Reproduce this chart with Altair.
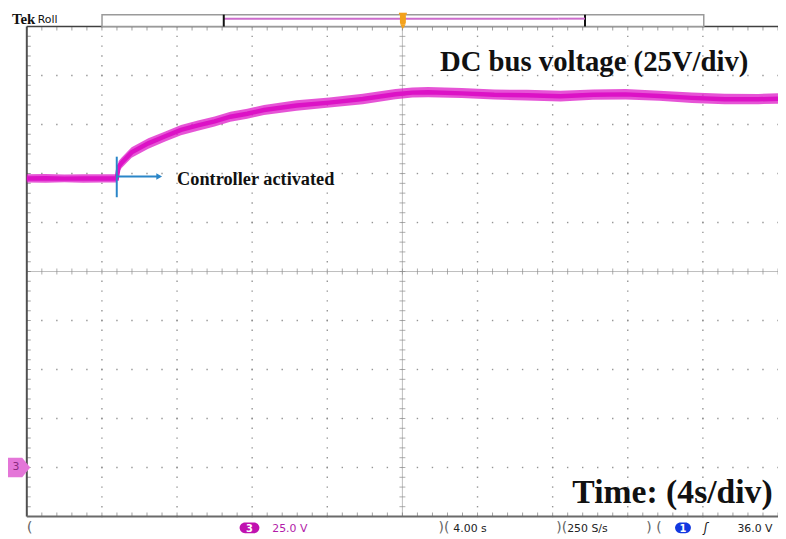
import altair as alt
import pandas as pd
import numpy as np

# ---- trace (time in s, DC bus voltage in V; ch3 ground = 0 V)
t_s = [0.0, 1.0, 2.0, 3.0, 4.0, 4.79, 4.89, 5.05, 5.58, 6.47, 7.37, 8.21, 9.11, 10.0,
       10.84, 11.74, 12.63, 14.37, 16.11, 17.89, 19.63, 20.53, 21.37, 23.16, 24.89,
       26.63, 28.42, 30.16, 31.89, 33.68, 35.42, 37.16, 38.95, 40.0]
v_mid = [147.5, 147.6, 147.4, 147.5, 147.5, 147.5, 153.5, 155.5, 160.8, 165.4, 169.0,
         172.3, 174.6, 176.6, 179.0, 180.5, 182.4, 184.7, 186.2, 188.0, 190.5, 191.3,
         191.5, 190.9, 190.2, 189.9, 189.4, 190.2, 190.4, 189.6, 188.6, 187.9, 187.9, 188.2]
v_hi = [149.6, 149.8, 149.5, 149.7, 149.6, 149.6, 156.4, 158.2, 163.4, 168.0, 171.5,
        174.8, 177.1, 179.1, 181.5, 183.0, 185.0, 187.4, 188.8, 190.7, 193.2, 193.9,
        194.2, 193.6, 192.9, 192.7, 192.2, 192.9, 193.2, 192.3, 191.4, 190.7, 190.6, 191.0]
v_lo = [145.4, 145.3, 145.5, 145.3, 145.4, 145.4, 150.6, 152.8, 158.0, 162.6, 166.3,
        169.6, 171.8, 174.0, 176.4, 177.9, 179.9, 182.1, 183.7, 185.4, 187.9, 188.8,
        188.9, 188.5, 187.8, 187.3, 186.8, 187.7, 187.8, 187.1, 186.0, 185.3, 185.4, 185.6]

activation_t = [4.79]
status_texts = ["25.0 V", "4.00 s", "250 S/s", "36.0 V"]

T_DIV, V_DIV = 4.0, 25.0
X0, X1 = 0.0, 40.0
Y0, Y1 = -25.0, 225.0

W, H = 759, 495
xs = alt.Scale(domain=[X0, X1], nice=False, zero=False)
ys = alt.Scale(domain=[Y0, Y1], nice=False, zero=False)


def X(f):
    return alt.X(f, type="quantitative", scale=xs, axis=None)


def Y(f):
    return alt.Y(f, type="quantitative", scale=ys, axis=None)


MAG = "#dc12c6"
BLUE = "#2a86c8"

# ---- graticule dots
tminor = np.round(np.arange(X0, X1 + 1e-6, T_DIV / 5), 3)
vminor = np.round(np.arange(Y0, Y1 + 1e-6, V_DIV / 5), 3)
vlines = [4, 8, 12, 16, 24, 28, 32, 36]
hlines = [0, 25, 50, 75, 125, 150, 175, 200]
dots = [(a, b) for a in vlines for b in vminor] + [(a, b) for b in hlines for a in tminor]
dots_df = pd.DataFrame(dots, columns=["x", "y"])

grid = alt.Chart(dots_df).mark_square(size=2, color="#8a8a8a", opacity=0.9).encode(
    x=X("x"), y=Y("y"))

center_v = alt.Chart(pd.DataFrame({"x": [20.0], "y": [Y0], "y2": [Y1]})).mark_rule(
    color="#bdbdbd", strokeWidth=1).encode(x=X("x"), y=Y("y"), y2="y2")
center_h = alt.Chart(pd.DataFrame({"y": [100.0], "x": [X0], "x2": [X1]})).mark_rule(
    color="#bdbdbd", strokeWidth=1).encode(y=Y("y"), x=X("x"), x2="x2")

ctick_h = alt.Chart(pd.DataFrame({"x": tminor, "y": 100.0})).mark_tick(
    orient="vertical", size=6, thickness=1, color="#8a8a8a").encode(x=X("x"), y=Y("y"))
ctick_v = alt.Chart(pd.DataFrame({"y": vminor, "x": 20.0})).mark_tick(
    orient="horizontal", size=6, thickness=1, color="#8a8a8a").encode(x=X("x"), y=Y("y"))

btick_top = alt.Chart(pd.DataFrame({"x": tminor, "y": Y1})).mark_tick(
    orient="vertical", size=8, thickness=1, color="#777", clip=True).encode(x=X("x"), y=Y("y"))
btick_bot = alt.Chart(pd.DataFrame({"x": tminor, "y": Y0})).mark_tick(
    orient="vertical", size=8, thickness=1, color="#777", clip=True).encode(x=X("x"), y=Y("y"))
btick_left = alt.Chart(pd.DataFrame({"y": vminor, "x": X0})).mark_tick(
    orient="horizontal", size=8, thickness=1, color="#777", clip=True).encode(x=X("x"), y=Y("y"))

border_left = alt.Chart(pd.DataFrame({"x": [X0], "y": [Y0], "y2": [Y1]})).mark_rule(
    color="#505050", strokeWidth=2).encode(x=X("x"), y=Y("y"), y2="y2")
border_top = alt.Chart(pd.DataFrame({"y": [Y1], "x": [X0], "x2": [X1]})).mark_rule(
    color="#404040", strokeWidth=1.5).encode(y=Y("y"), x=X("x"), x2="x2")
border_bot = alt.Chart(pd.DataFrame({"y": [Y0], "x": [X0], "x2": [X1]})).mark_rule(
    color="#6a6a6a", strokeWidth=2).encode(y=Y("y"), x=X("x"), x2="x2")

# ---- waveform: noisy envelope + solid core
trace_df = pd.DataFrame({"t": t_s, "hi": v_hi, "lo": v_lo, "mid": v_mid})
trace_env = alt.Chart(trace_df).mark_area(color=MAG, opacity=0.72, interpolate="linear").encode(
    x=X("t"), y=Y("lo"), y2="hi")
trace_core = alt.Chart(trace_df).mark_line(color=MAG, strokeWidth=4.5,
                                           interpolate="linear").encode(x=X("t"), y=Y("mid"))

# ---- annotation arrow
ann_v = alt.Chart(pd.DataFrame({"x": activation_t, "y": [137.9], "y2": [158.6]})).mark_rule(
    color=BLUE, strokeWidth=2).encode(x=X("x"), y=Y("y"), y2="y2")
ann_h = alt.Chart(pd.DataFrame({"x": activation_t, "x2": [7.0], "y": [148.5]})).mark_rule(
    color=BLUE, strokeWidth=2).encode(x=X("x"), x2="x2", y=Y("y"))
ann_head = alt.Chart(pd.DataFrame({"x": [7.05], "y": [148.5]})).mark_point(
    shape="triangle-right", size=45, filled=True, color=BLUE, opacity=1).encode(
    x=X("x"), y=Y("y"))
ann_txt = alt.Chart(pd.DataFrame({"x": [8.0], "y": [143.9], "s": ["Controller activated"]})).mark_text(
    align="left", baseline="alphabetic", font="Liberation Serif", fontWeight="bold",
    fontSize=18.5, color="#111").encode(x=X("x"), y=Y("y"), text="s:N")

title_txt = alt.Chart(pd.DataFrame({"x": [22.0], "y": [202.5], "s": ["DC bus voltage (25V/div)"]})).mark_text(
    align="left", baseline="alphabetic", font="Liberation Serif", fontWeight="bold",
    fontSize=29, color="#111").encode(x=X("x"), y=Y("y"), text="s:N")
time_txt = alt.Chart(pd.DataFrame({"x": [29.05], "y": [-18.2], "s": ["Time: (4s/div)"]})).mark_text(
    align="left", baseline="alphabetic", font="Liberation Serif", fontWeight="bold",
    fontSize=34, color="#111").encode(x=X("x"), y=Y("y"), text="s:N")

# ---- scope chrome (pixel positions relative to plot origin)
one = pd.DataFrame({"a": [0]})


def rect(x, x2, y, y2, **kw):
    return alt.Chart(one).mark_rect(clip=False, **kw).encode(
        x=alt.value(x), x2=alt.value(x2), y=alt.value(y), y2=alt.value(y2))


def rule(x, x2, y, y2, **kw):
    return alt.Chart(one).mark_rule(clip=False, **kw).encode(
        x=alt.value(x), x2=alt.value(x2), y=alt.value(y), y2=alt.value(y2))


def txt(x, y, s, **kw):
    return alt.Chart(one).mark_text(clip=False, baseline="alphabetic", **kw).encode(
        x=alt.value(x), y=alt.value(y), text=alt.value(s))


chrome = [
    rect(76, 684, -12, 0, fill="white", stroke="#9a9a9a", strokeWidth=1.5),
    rule(199, 537, -8, -8, color="#cc6ccc", strokeWidth=2),
    rule(199, 199, -12, 0, color="#111", strokeWidth=2),
    rule(564, 564, -12, 0, color="#111", strokeWidth=2),
    rule(537, 564, -8, -8, color="#cc6ccc", strokeWidth=2),
    rect(377, 383, -13, -2, fill="#f3a21c", cornerRadius=2),
    rule(376, 384, -13, -13, color="#f3a21c", strokeWidth=2),
    alt.Chart(one).mark_point(shape="triangle-down", size=30, filled=True, color="#f3a21c",
                              opacity=1, clip=False).encode(x=alt.value(380), y=alt.value(0)),
    txt(-15, -3, "Tek", font="Liberation Serif", fontWeight="bold", fontSize=15, color="#111",
        align="left"),
    txt(11, -4, "Roll", font="DejaVu Sans", fontSize=11, color="#111", align="left"),
    # bottom status bar
    txt(0, 511, "(", font="DejaVu Sans", fontSize=15, color="#666", align="left"),
    rect(215, 235, 501, 512, fill="#c012b0", cornerRadius=6),
    txt(225, 511, "3", font="DejaVu Sans", fontWeight="bold", fontSize=10, color="white",
        align="center"),
    txt(248, 511, status_texts[0], font="DejaVu Sans", fontSize=11, color="#b21aa8", align="left"),
    txt(416, 511, ")(", font="DejaVu Sans", fontSize=14, color="#666", align="left"),
    txt(431, 511, status_texts[1], font="DejaVu Sans", fontSize=11, color="#222", align="left"),
    txt(535, 511, ")(", font="DejaVu Sans", fontSize=14, color="#666", align="left"),
    txt(546, 511, status_texts[2], font="DejaVu Sans", fontSize=11, color="#222", align="left"),
    txt(626, 511, ") (", font="DejaVu Sans", fontSize=14, color="#666", align="left"),
    rect(655, 671, 501, 512, fill="#1238e0", cornerRadius=6),
    txt(663, 511, "1", font="DejaVu Sans", fontWeight="bold", fontSize=10, color="white",
        align="center"),
    txt(684, 511, "ʃ", font="DejaVu Sans", fontSize=12, color="#111", align="left",
        fontStyle="italic"),
    txt(718, 511, status_texts[3], font="DejaVu Sans", fontSize=11, color="#222", align="left"),
]

gnd = pd.DataFrame({"y": [0.0], "s": ["3"]})
ch3 = alt.Chart(gnd).mark_point(
    shape="M-1,-0.8 L0.35,-0.8 L1,0 L0.35,0.8 L-1,0.8 Z", size=620, filled=True,
    color="#e476d8", opacity=1, clip=False).encode(x=alt.value(-9), y=Y("y"))
ch3_t = alt.Chart(gnd).mark_text(font="DejaVu Sans", fontSize=11, color="#8a2a80",
                                 clip=False, baseline="middle", align="center").encode(
    x=alt.value(-11), y=Y("y"), text="s:N")

chart = alt.layer(
    grid, center_v, center_h, ctick_h, ctick_v, btick_top, btick_bot, btick_left,
    border_left, border_top, border_bot, trace_env, trace_core, ann_v, ann_h, ann_head,
    ann_txt, title_txt, time_txt, *chrome, ch3, ch3_t
).properties(
    width=W, height=H,
    padding={"left": 19, "top": 16, "right": 0, "bottom": 20},
    autosize=alt.AutoSizeParams(type="none"),
    background="white",
).configure_view(stroke=None)

chart.save("out.html", embed_options={"renderer": "svg", "actions": False})
